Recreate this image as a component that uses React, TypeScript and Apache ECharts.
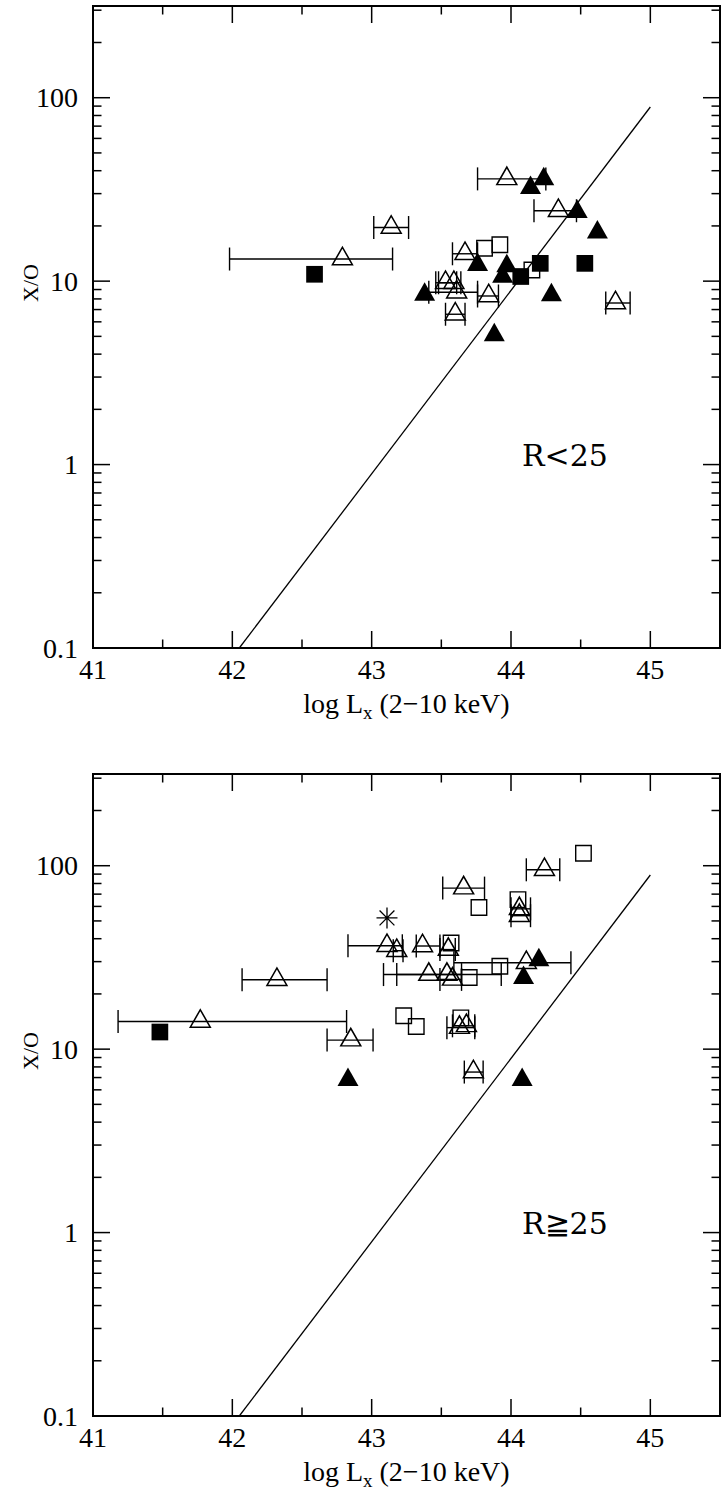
import React, { useEffect, useRef } from 'react';
import * as echarts from 'echarts';

// ---- axis ticks / labels ----
const xTickMajor = [41, 42, 43, 44, 45];
const xTickMinor = [41.5, 42.5, 43.5, 44.5];
const yTickMajor = [0.1, 1, 10, 100];
const yTickLabels = ['0.1', '1', '10', '100'];
const yTickMinor = [0.2, 0.3, 0.4, 0.5, 0.6, 0.7, 0.8, 0.9, 2, 3, 4, 5, 6, 7, 8, 9, 20, 30, 40, 50, 60, 70, 80, 90, 200, 300];

// ---- reference relation line ----
const relationX = [42.05, 45];
const relationY = [0.1, 89];

// ---- panel 1: R<25 ----  [log Lx, X/O, errLo, errHi]
const topOpenTri = [
  [42.79, 13.2, 41.98, 43.15],
  [43.14, 19.6, 43.015, 43.265],
  [43.97, 36.1, 43.76, 44.25],
  [44.34, 24.2, 44.165, 44.47],
  [44.75, 7.6, 44.68, 44.855],
  [43.67, 14.1, 43.58, 43.76],
  [43.53, 9.8, 43.46, 43.64],
  [43.59, 9.8, 43.48, 43.61],
  [43.61, 8.7, 43.41, 43.76],
  [43.84, 8.3, 43.76, 43.91],
  [43.6, 6.6, 43.53, 43.67],
];
const topFilledTri = [
  [44.235, 36.1], [44.14, 32.3], [44.475, 23.9], [44.62, 18.5], [43.76, 12.3],
  [43.97, 12.1], [43.94, 10.6], [43.38, 8.45], [44.29, 8.4], [43.88, 5.08],
];
const topOpenSq = [[43.81, 15.1], [43.92, 15.8], [44.15, 11.5]];
const topFilledSq = [[42.59, 10.9], [44.21, 12.5], [44.53, 12.5], [44.07, 10.6]];
const topStar: number[][] = [];

// ---- panel 2: R>=25 ----
const botOpenTri = [
  [44.24, 95, 44.11, 44.35],
  [43.66, 75.5, 43.51, 43.81],
  [44.06, 58.2, 44.0, 44.14],
  [44.06, 53.4, 44.0, 44.14],
  [43.11, 36.6, 42.83, 43.22],
  [43.18, 34.4, 43.155, 43.225],
  [43.365, 36.5, 43.32, 43.49],
  [43.55, 34.9, 43.49, 43.6],
  [43.41, 25.5, 43.18, 43.645],
  [43.54, 25.5, 43.085, 43.93],
  [43.58, 24.0, 43.49, 43.645],
  [44.11, 29.6, 43.59, 44.43],
  [42.32, 23.9, 42.07, 42.68],
  [41.77, 14.15, 41.18, 42.82],
  [42.85, 11.2, 42.68, 43.01],
  [43.63, 13.1, 43.54, 43.74],
  [43.68, 13.4, 43.58, 43.74],
  [43.73, 7.5, 43.665, 43.8],
];
const botFilledTri = [[44.2, 30.6], [44.09, 24.5], [42.83, 6.8], [44.08, 6.8]];
const botOpenSq = [
  [43.23, 15.2], [43.32, 13.3], [43.64, 14.8], [43.7, 24.6], [43.92, 28.3],
  [43.57, 37.9], [43.77, 59.2], [44.05, 65.3], [44.52, 117],
];
const botFilledSq = [[41.48, 12.4]];
const botStar = [[43.11, 51.9]];

const panelLabels = ['R<25', 'R≧25'];

const GRID_LEFT = 93;
const GRID_W = 642;
const GRID_H = 642;
const GRID_TOPS = [6, 774];

const SERIF = 'Liberation Serif';

function renderTick(params: any, api: any) {
  const cs = params.coordSys;
  const v = api.value(0);
  const kind = api.value(1);
  const style = { stroke: '#000', lineWidth: 1.5 };
  if (kind <= 2) {
    const len = kind === 1 ? 17 : 8.5;
    const px = api.coord([v, 1])[0];
    return {
      type: 'group',
      children: [
        { type: 'line', shape: { x1: px, y1: cs.y + cs.height, x2: px, y2: cs.y + cs.height - len }, style },
        { type: 'line', shape: { x1: px, y1: cs.y, x2: px, y2: cs.y + len }, style },
      ],
    };
  }
  const len = kind === 3 ? 17 : 8.5;
  const py = api.coord([42, v])[1];
  return {
    type: 'group',
    children: [
      { type: 'line', shape: { x1: cs.x, y1: py, x2: cs.x + len, y2: py }, style },
      { type: 'line', shape: { x1: cs.x + cs.width, y1: py, x2: cs.x + cs.width - len, y2: py }, style },
    ],
  };
}

function renderErr(params: any, api: any) {
  const y = api.value(1);
  const p1 = api.coord([api.value(2), y]);
  const p2 = api.coord([api.value(3), y]);
  const h = 11.5;
  const style = { stroke: '#000', lineWidth: 1.4 };
  return {
    type: 'group',
    children: [
      { type: 'line', shape: { x1: p1[0], y1: p1[1], x2: p2[0], y2: p2[1] }, style },
      { type: 'line', shape: { x1: p1[0], y1: p1[1] - h, x2: p1[0], y2: p1[1] + h }, style },
      { type: 'line', shape: { x1: p2[0], y1: p2[1] - h, x2: p2[0], y2: p2[1] + h }, style },
    ],
  };
}

const tickItems = [
  ...xTickMajor.map((v) => [v, 1]),
  ...xTickMinor.map((v) => [v, 2]),
  ...yTickMajor.map((v) => [v, 3]),
  ...yTickMinor.map((v) => [v, 4]),
];

const STAR = 'path://M10 0L10 20M0 10L20 10M2.93 2.93L17.07 17.07M2.93 17.07L17.07 2.93';

function panelSeries(i: number, openTri: number[][], filledTri: number[][], openSq: number[][], filledSq: number[][], star: number[][]) {
  const ax = { xAxisIndex: i, yAxisIndex: i };
  const list: any[] = [
    { type: 'custom', ...ax, renderItem: renderTick, data: tickItems, silent: true, z: 5 },
    {
      type: 'line', ...ax, data: relationX.map((x, k) => [x, relationY[k]]), symbol: 'none',
      lineStyle: { color: '#000', width: 1.3 }, silent: true, z: 3,
    },
    { type: 'custom', ...ax, renderItem: renderErr, data: openTri, silent: true, z: 4 },
    {
      type: 'scatter', ...ax, data: openTri.map((d) => [d[0], d[1]]), symbol: 'triangle',
      symbolSize: [20, 17.5], symbolOffset: [0, -3],
      itemStyle: { color: 'transparent', borderColor: '#000', borderWidth: 1.5, opacity: 1 }, z: 6,
    },
    {
      type: 'scatter', ...ax, data: filledTri, symbol: 'triangle', symbolSize: [21, 18.5], symbolOffset: [0, -3],
      itemStyle: { color: '#000', opacity: 1 }, z: 7,
    },
    {
      type: 'scatter', ...ax, data: openSq, symbol: 'rect', symbolSize: 15.5,
      itemStyle: { color: 'transparent', borderColor: '#000', borderWidth: 1.4, opacity: 1 }, z: 6,
    },
    {
      type: 'scatter', ...ax, data: filledSq, symbol: 'rect', symbolSize: 16.7,
      itemStyle: { color: '#000', opacity: 1 }, z: 7,
    },
  ];
  if (star.length) {
    list.push({
      type: 'scatter', ...ax, data: star, symbol: STAR, symbolSize: 21,
      itemStyle: { color: 'transparent', borderColor: '#000', borderWidth: 1.3, opacity: 1 }, z: 6,
    });
  }
  return list;
}

export default function App() {
  const ref = useRef<HTMLDivElement>(null);
  useEffect(() => {
    if (!ref.current) return;
    const chart = echarts.init(ref.current, undefined, { renderer: 'svg' });
    const option: any = {
      animation: false,
      backgroundColor: '#fff',
      grid: GRID_TOPS.map((t) => ({
        left: GRID_LEFT, top: t, width: GRID_W, height: GRID_H,
        show: true, borderColor: '#000', borderWidth: 2, backgroundColor: 'transparent',
      })),
      xAxis: GRID_TOPS.map((_, i) => ({
        gridIndex: i, type: 'value', min: 41, max: 45.5, interval: 1,
        axisLine: { show: false }, axisTick: { show: false }, splitLine: { show: false },
        axisLabel: {
          margin: 7, color: '#000', fontFamily: SERIF, fontSize: 28,
          formatter: (v: number) => (Number.isInteger(v) && xTickMajor.includes(v) ? String(v) : ''),
        },
        name: '{a|log L}{s|x}{a| (2−10 keV)}{z| }',
        nameLocation: 'middle', nameGap: 41,
        nameTextStyle: {
          color: '#000', fontFamily: SERIF, fontSize: 28,
          rich: {
            a: { color: '#000', fontFamily: SERIF, fontSize: 28, lineHeight: 28, verticalAlign: 'top' },
            s: { color: '#000', fontFamily: SERIF, fontSize: 19, lineHeight: 19, verticalAlign: 'bottom' },
            z: { fontSize: 1, lineHeight: 33, verticalAlign: 'top' },
          },
        },
      })),
      yAxis: GRID_TOPS.map((_, i) => ({
        gridIndex: i, type: 'log', logBase: 10, min: 0.1, max: 316.23,
        axisLine: { show: false }, axisTick: { show: false }, splitLine: { show: false },
        axisLabel: {
          margin: 15, color: '#000', fontFamily: SERIF, fontSize: 28,
          formatter: (v: number) => {
            const k = yTickMajor.findIndex((t) => Math.abs(t - v) < t * 1e-6);
            return k >= 0 ? yTickLabels[k] : '';
          },
        },
      })),
      graphic: [
        ...GRID_TOPS.map((t) => ({
          type: 'text', x: 30, y: t + 277, rotation: Math.PI / 2,
          style: { text: 'X/O', fontFamily: SERIF, fontSize: 22, fill: '#000', textAlign: 'center', textVerticalAlign: 'middle' },
        })),
        ...panelLabels.map((lab, i) => ({
          type: 'text', x: 522, y: GRID_TOPS[i] + 449.5,
          style: { text: lab, fontFamily: 'DejaVu Serif', fontSize: 30, fill: '#000', textAlign: 'left', textVerticalAlign: 'middle' },
        })),
      ],
      series: [
        ...panelSeries(0, topOpenTri, topFilledTri, topOpenSq, topFilledSq, topStar),
        ...panelSeries(1, botOpenTri, botFilledTri, botOpenSq, botFilledSq, botStar),
      ],
    };
    chart.setOption(option);
    return () => chart.dispose();
  }, []);
  return (
    <div
      ref={ref}
      style={{ position: 'fixed', left: 0, top: 0, width: 723, height: 1491, background: '#fff' }}
    />
  );
}
